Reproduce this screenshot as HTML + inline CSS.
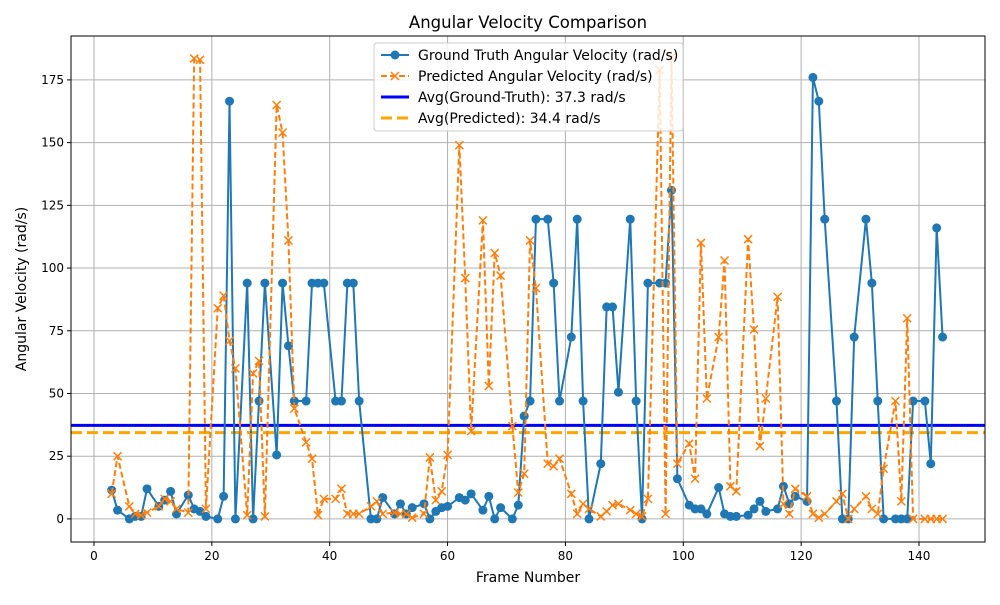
<!DOCTYPE html>
<html><head><meta charset="utf-8"><style>
body{margin:0;background:#fff;font-family:"Liberation Sans","DejaVu Sans",sans-serif}
svg text{font-family:"DejaVu Sans","Liberation Sans",sans-serif}
</style></head><body>
<svg id="chart" width="1000" height="600" xmlns="http://www.w3.org/2000/svg"></svg>
<script>
const frames=[3,4,6,7,8,9,11,12,13,14,16,17,18,19,21,22,23,24,26,27,28,29,31,32,33,34,36,37,38,39,41,42,43,44,45,47,48,49,51,52,53,54,56,57,58,59,60,62,63,64,66,67,68,69,71,72,73,74,75,77,78,79,81,82,83,84,86,87,88,89,91,92,93,94,96,97,98,99,101,102,103,104,106,107,108,109,111,112,113,114,116,117,118,119,121,122,123,124,126,127,128,129,131,132,133,134,136,137,138,139,141,142,143,144];
const groundTruth=[11.5,3.5,0,1,1,12,5,7.5,11,2,9.5,4,3,1,0,9,166.5,0,94,0,47,94,25.5,94,69,47,47,94,94,94,47,47,94,94,47,0,0,8.5,2,6,2,4.5,6,0,3,4.5,5,8.5,7.5,10,3.5,9,0,4.5,0,5.5,41,47,119.5,119.5,94,47,72.5,119.5,47,0,22,84.5,84.5,50.5,119.5,47,0,94,94,94,131,16,5.5,4,4,2,12.5,2,1,1,1.5,4,7,3,4,13,6,9,7,176,166.5,119.5,47,0,0,72.5,119.5,94,47,0,0,0,0,47,47,22,116,72.5];
const predicted=[10,25,5,2,1.5,2.5,5,8,7,4,2.5,183.5,183,4,84,89,71,60,1.5,58,63,1,165,154,111,44,30.5,24,1.5,8,8,12,2,2,2,5,7,2,2.5,2,2,0.5,2,24.5,7.5,11,25.5,149,96,35,119,53,106,97,37,10.5,18,111,92,22,21,24,10,2,6,4,1,3,5.5,6,3.5,2,1,8,179,2,184,22,30,16,110,48,72.5,103,13,11,111.5,75.5,29,48,88.5,6,2,12,9,2,0.5,2,7,10,0,4,9,4,2,20,47,7,80,0,0,0,0,0];
const avgGT=37.3, avgPred=34.4;
const xTicks=[0,20,40,60,80,100,120,140];
const yTicks=[0,25,50,75,100,125,150,175];

const NS="http://www.w3.org/2000/svg";
const svg=document.getElementById('chart');
const L=71,R=985,T=36,B=542;
const xMin=-3.9,xMax=151.2,yMin=-9.2,yMax=192.5;
const X=v=>L+(v-xMin)/(xMax-xMin)*(R-L);
const Y=v=>B-(v-yMin)/(yMax-yMin)*(B-T);
function mk(tag,attrs,parent){const e=document.createElementNS(NS,tag);for(const k in attrs)e.setAttribute(k,attrs[k]);(parent||svg).appendChild(e);return e;}

const grid=mk('g',{});


xTicks.forEach(t=>{mk('line',{x1:X(t),x2:X(t),y1:T,y2:B,stroke:'#b0b0b0','stroke-width':1},grid);});
yTicks.forEach(t=>{mk('line',{x1:L,x2:R,y1:Y(t),y2:Y(t),stroke:'#b0b0b0','stroke-width':1},grid);});

const axes=mk('g',{});


xTicks.forEach(t=>{
  mk('line',{x1:X(t),x2:X(t),y1:B,y2:B+4,stroke:'#000'},axes);
  const tx=mk('text',{x:X(t),y:B+18,'text-anchor':'middle','font-size':12},axes);tx.textContent=t;
  
  
});
yTicks.forEach(t=>{
  mk('line',{x1:L-4,x2:L,y1:Y(t),y2:Y(t),stroke:'#000'},axes);
  const tx=mk('text',{x:L-7,y:Y(t)+4,'text-anchor':'end','font-size':12},axes);tx.textContent=t;
  
  
});

const ag=mk('line',{x1:L,x2:R,y1:Y(avgGT),y2:Y(avgGT),stroke:'#0000ff','stroke-width':3});


const ap=mk('line',{x1:L,x2:R,y1:Y(avgPred),y2:Y(avgPred),stroke:'#ffa500','stroke-width':3,'stroke-dasharray':'11,5'});



const defs=mk('defs',{});const cp=mk('clipPath',{id:'clip'},defs);mk('rect',{x:L,y:T,width:R-L,height:B-T},cp);

const gG=mk('g',{'clip-path':'url(#clip)'});


mk('polyline',{points:frames.map((f,i)=>X(f)+','+Y(groundTruth[i])).join(' '),fill:'none',stroke:'#1f77b4','stroke-width':2},gG);
frames.forEach((f,i)=>{const c=mk('circle',{cx:X(f),cy:Y(groundTruth[i]),r:4.5,fill:'#1f77b4'},gG);
  
  });

const pG=mk('g',{'clip-path':'url(#clip)'});


mk('polyline',{points:frames.map((f,i)=>X(f)+','+Y(predicted[i])).join(' '),fill:'none',stroke:'#ff7f0e','stroke-width':2,'stroke-dasharray':'6,3'},pG);
frames.forEach((f,i)=>{const x=X(f),y=Y(predicted[i]);
  const p=mk('path',{d:`M${x-4},${y-4}L${x+4},${y+4}M${x-4},${y+4}L${x+4},${y-4}`,stroke:'#ff7f0e','stroke-width':1.5},pG);
  
  });

const frame=mk('rect',{x:L,y:T,width:R-L,height:B-T,fill:'none',stroke:'#000','stroke-width':1});



const title=mk('text',{x:(L+R)/2,y:28,'text-anchor':'middle','font-size':16.5});title.textContent='Angular Velocity Comparison';


const xl=mk('text',{x:(L+R)/2,y:582,'text-anchor':'middle','font-size':14});xl.textContent='Frame Number';


const yl=mk('text',{x:0,y:0,'text-anchor':'middle','font-size':14,transform:`translate(26,${(T+B)/2}) rotate(-90)`});yl.textContent='Angular Velocity (rad/s)';



const lg=mk('g',{});


mk('rect',{x:374,y:43,width:309,height:88,rx:3,fill:'#fff','fill-opacity':0.8,stroke:'#cccccc'},lg);
const entries=[['Ground Truth Angular Velocity (rad/s)','gt'],['Predicted Angular Velocity (rad/s)','pr'],['Avg(Ground-Truth): 37.3 rad/s','ag'],['Avg(Predicted): 34.4 rad/s','ap']];
entries.forEach((e,i)=>{const y=55+i*21;
  const g=mk('g',{},lg);
  
  
  if(e[1]=='gt'){mk('line',{x1:381,x2:409,y1:y,y2:y,stroke:'#1f77b4','stroke-width':2},g);mk('circle',{cx:395,cy:y,r:4.5,fill:'#1f77b4'},g);}
  if(e[1]=='pr'){mk('line',{x1:381,x2:409,y1:y,y2:y,stroke:'#ff7f0e','stroke-width':2,'stroke-dasharray':'6,3'},g);mk('path',{d:`M391,${y-4}L399,${y+4}M391,${y+4}L399,${y-4}`,stroke:'#ff7f0e','stroke-width':1.5},g);}
  if(e[1]=='ag')mk('line',{x1:381,x2:409,y1:y,y2:y,stroke:'#0000ff','stroke-width':3},g);
  if(e[1]=='ap')mk('line',{x1:381,x2:409,y1:y,y2:y,stroke:'#ffa500','stroke-width':3,'stroke-dasharray':'11,5'},g);
  const t=mk('text',{x:418,y:y+5,'font-size':14},g);t.textContent=e[0];
});
</script>
</body></html>
